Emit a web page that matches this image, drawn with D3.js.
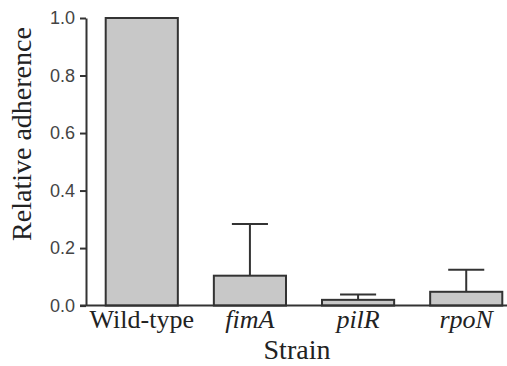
<!DOCTYPE html>
<html>
<head>
<meta charset="utf-8">
<script src="https://cdn.jsdelivr.net/npm/d3@7"></script>
<style>
  body { margin: 0; background: #fff; }
  svg { display: block; }
</style>
</head>
<body>
<svg width="507" height="366"></svg>
<script>
const strains = ['Wild-type', 'fimA', 'pilR', 'rpoN'];
const italic = [false, true, true, true];
const adherence = [1.0, 0.104, 0.02, 0.048];
const errorTop = [1.0, 0.284, 0.039, 0.125];
const yTicks = [0, 0.2, 0.4, 0.6, 0.8, 1.0];

const svg = d3.select('svg');
const ink = '#333';

const x = d3.scaleBand().domain(strains).range([105.7, 502.3]).paddingInner(0.333).paddingOuter(0);
const y = d3.scaleLinear().domain([0, 1]).range([305.6, 18]);

// y axis
const yAxis = svg.append('g')
  .attr('transform', 'translate(86,0)')
  .call(d3.axisLeft(y).tickValues(yTicks).tickFormat(d3.format('.1f')).tickSize(6).tickSizeOuter(0).tickPadding(5));
yAxis.select('.domain').attr('stroke', ink).attr('stroke-width', 2);
yAxis.selectAll('.tick line').attr('stroke', ink).attr('stroke-width', 2);
yAxis.selectAll('.tick text')
  .attr('fill', '#444')
  .style('font-family', '"Liberation Sans", Arial, sans-serif')
  .style('font-size', '18px');

// bars
svg.selectAll('.bar')
  .data(strains)
  .enter().append('rect')
  .attr('class', 'bar')
  .attr('x', d => x(d))
  .attr('y', (d, i) => y(adherence[i]))
  .attr('width', x.bandwidth())
  .attr('height', (d, i) => y(0) - y(adherence[i]))
  .attr('fill', '#c8c8c8')
  .attr('stroke', ink)
  .attr('stroke-width', 2);

// error bars (upper only)
strains.forEach((d, i) => {
  if (errorTop[i] <= adherence[i]) return;
  const cx = x(d) + x.bandwidth() / 2;
  svg.append('line')
    .attr('x1', cx).attr('x2', cx)
    .attr('y1', y(adherence[i])).attr('y2', y(errorTop[i]))
    .attr('stroke', ink).attr('stroke-width', 2);
  svg.append('line')
    .attr('x1', cx - x.bandwidth() / 4).attr('x2', cx + x.bandwidth() / 4)
    .attr('y1', y(errorTop[i])).attr('y2', y(errorTop[i]))
    .attr('stroke', ink).attr('stroke-width', 2);
});

// x axis line
svg.append('line')
  .attr('x1', 80).attr('x2', 507)
  .attr('y1', y(0)).attr('y2', y(0))
  .attr('stroke', ink).attr('stroke-width', 2);

// category labels
svg.selectAll('.cat')
  .data(strains)
  .enter().append('text')
  .attr('class', 'cat')
  .attr('x', d => x(d) + x.bandwidth() / 2)
  .attr('y', 328)
  .attr('text-anchor', 'middle')
  .style('font-family', '"Liberation Serif", "Times New Roman", serif')
  .style('font-size', '26px')
  .style('font-style', (d, i) => italic[i] ? 'italic' : 'normal')
  .attr('fill', '#222')
  .text(d => d);

// axis titles
svg.append('text')
  .attr('x', 297).attr('y', 359)
  .attr('text-anchor', 'middle')
  .style('font-family', '"Liberation Serif", "Times New Roman", serif')
  .style('font-size', '28px')
  .attr('fill', '#222')
  .text('Strain');

svg.append('text')
  .attr('transform', 'translate(31,134) rotate(-90)')
  .attr('text-anchor', 'middle')
  .style('font-family', '"Liberation Serif", "Times New Roman", serif')
  .style('font-size', '28px')
  .attr('fill', '#222')
  .text('Relative adherence');
</script>
</body>
</html>
